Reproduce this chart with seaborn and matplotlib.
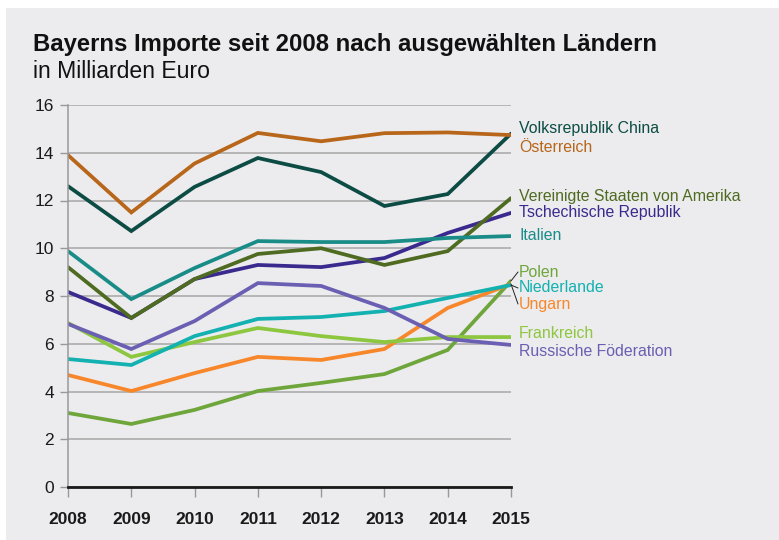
import matplotlib
matplotlib.use("Agg")
import matplotlib.pyplot as plt
import seaborn as sns
import pandas as pd
from matplotlib.patches import Rectangle

years = [2008, 2009, 2010, 2011, 2012, 2013, 2014, 2015]

oesterreich = [13.9, 11.5, 13.55, 14.83, 14.48, 14.82, 14.85, 14.74]
china = [12.6, 10.72, 12.57, 13.78, 13.19, 11.77, 12.27, 14.8]
italien = [9.88, 7.87, 9.17, 10.3, 10.26, 10.26, 10.43, 10.51]
usa = [9.21, 7.08, 8.71, 9.76, 10.0, 9.3, 9.88, 12.1]
tschechien = [8.17, 7.08, 8.71, 9.3, 9.21, 9.59, 10.64, 11.48]
russland = [6.83, 5.78, 6.95, 8.54, 8.42, 7.5, 6.2, 5.95]
niederlande = [5.36, 5.11, 6.32, 7.04, 7.12, 7.37, 7.92, 8.46]
frankreich = [6.87, 5.45, 6.07, 6.66, 6.32, 6.07, 6.28, 6.28]
ungarn = [4.69, 4.02, 4.77, 5.45, 5.32, 5.78, 7.5, 8.5]
polen = [3.1, 2.64, 3.23, 4.02, 4.36, 4.73, 5.74, 8.63]

series = [
    ("Polen", polen, "#6fa63b"),
    ("Ungarn", ungarn, "#f7872a"),
    ("Frankreich", frankreich, "#8dc63f"),
    ("Niederlande", niederlande, "#14b1b1"),
    ("Russische Föderation", russland, "#6a5fb2"),
    ("Tschechische Republik", tschechien, "#3a2a8e"),
    ("Vereinigte Staaten von Amerika", usa, "#4f6b22"),
    ("Italien", italien, "#1a8c88"),
    ("Volksrepublik China", china, "#0c4c44"),
    ("Österreich", oesterreich, "#b8661a"),
]

label_y = {
    "Volksrepublik China": 129, "Österreich": 147,
    "Vereinigte Staaten von Amerika": 197, "Tschechische Republik": 213,
    "Italien": 236, "Polen": 272, "Niederlande": 288, "Ungarn": 304,
    "Frankreich": 334, "Russische Föderation": 351,
}

rows = []
for name, vals, col in series:
    for y, v in zip(years, vals):
        rows.append({"Jahr": y, "Wert": v, "Land": name})
df = pd.DataFrame(rows)
palette = {name: col for name, vals, col in series}

sns.set_style("white")
plt.rcParams['font.family'] = ['Liberation Sans', 'DejaVu Sans']

W, H = 779, 540
bg = "#ececee"
fig = plt.figure(figsize=(W / 100, H / 100), dpi=100)
fig.patch.set_facecolor("white")
fig.patches.append(Rectangle((6 / W, 0), 1, 1 - 8 / H, transform=fig.transFigure,
                             facecolor=bg, edgecolor="none", zorder=-10))

ax = fig.add_axes([68 / W, 1 - 487 / H, (511 - 68) / W, (487 - 105) / H])
ax.set_facecolor(bg)
ax.patch.set_alpha(0)

sns.lineplot(data=df, x="Jahr", y="Wert", hue="Land", palette=palette,
             hue_order=[s[0] for s in series], linewidth=2.7, ax=ax,
             legend=False, solid_joinstyle="miter")

ax.set_xlim(2008, 2015)
ax.set_ylim(0, 16)
ax.set_xticks(years)
ax.set_xticklabels([str(y) for y in years], fontsize=12.5, fontweight="bold", color="#1a1a1a")
ax.set_yticks(range(0, 17, 2))
ax.set_yticklabels([str(v) for v in range(0, 17, 2)], fontsize=12.5, color="#1a1a1a")
ax.yaxis.grid(True, color="#a6a6a6", linewidth=1.1, zorder=0)
ax.set_axisbelow(True)
ax.tick_params(axis="y", length=6, width=1, color="#999999", pad=4, left=True)
ax.tick_params(axis="x", length=7, width=1, color="#999999", pad=11, bottom=True)
for s in ["top", "right"]:
    ax.spines[s].set_visible(False)
ax.spines["left"].set_color("#999999")
ax.spines["left"].set_linewidth(1.1)
ax.spines["bottom"].set_color("#1a1a1a")
ax.spines["bottom"].set_linewidth(2)
ax.set_xlabel("")
ax.set_ylabel("")


def px_to_data_y(py):
    return (487 - py) / (487 - 105) * 16


for name, vals, col in series:
    ax.text(2015 + 8 / (443 / 7), px_to_data_y(label_y[name]), name, color=col,
            fontsize=11.4, va="center", ha="left", clip_on=False)

x_lab = 2015 + 7 / (443 / 7)
for name, vals in [("Polen", polen), ("Niederlande", niederlande), ("Ungarn", ungarn)]:
    ax.plot([2015, x_lab], [vals[-1], px_to_data_y(label_y[name])], color="#222222",
            linewidth=0.7, clip_on=False)

fig.text(33 / W, 1 - 44 / H, "Bayerns Importe seit 2008 nach ausgewählten Ländern",
         fontsize=17.2, fontweight="bold", va="center", ha="left", color="#111111")
fig.text(33 / W, 1 - 72 / H, "in Milliarden Euro", fontsize=16.6, va="center",
         ha="left", color="#111111")

fig.savefig("out.png", dpi=100, facecolor=fig.get_facecolor())
